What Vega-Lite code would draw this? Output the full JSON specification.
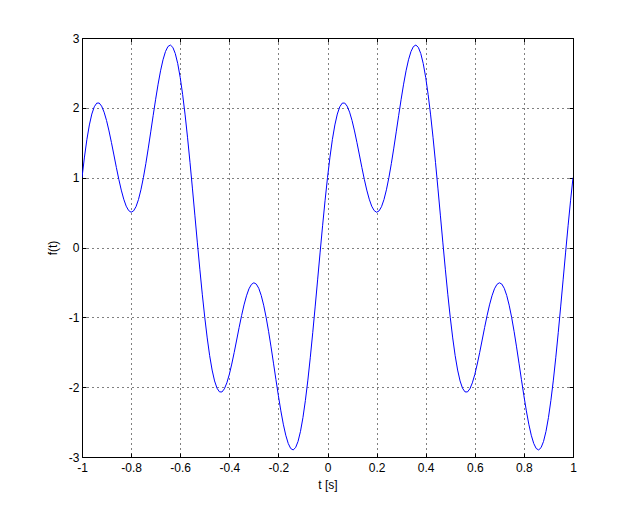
{
  "$schema": "https://vega.github.io/schema/vega-lite/v6.json",
  "width": 491,
  "height": 419,
  "autosize": {"type": "none"},
  "padding": {"left": 82, "top": 38, "right": 60, "bottom": 56},
  "background": "white",
  "config": {
    "view": {"stroke": null},
    "axis": {
      "labelFont": "Liberation Sans",
      "labelFontSize": 12,
      "labelColor": "black",
      "titleFont": "Liberation Sans",
      "titleFontSize": 12,
      "titleFontWeight": "normal",
      "titleColor": "black",
      "domainColor": "black",
      "domainWidth": 1,
      "tickColor": "black",
      "tickWidth": 1,
      "tickSize": -4,
      "gridColor": "black",
      "gridDash": [1, 4],
      "gridOpacity": 1,
      "gridWidth": 1
    }
  },
  "data": {
    "values": [
      {"t": -1, "f": 1}, {"t": -0.99, "f": 1.295}, {"t": -0.98, "f": 1.549}, {"t": -0.97, "f": 1.755}, {"t": -0.96, "f": 1.911},
      {"t": -0.95, "f": 2.015}, {"t": -0.94, "f": 2.067}, {"t": -0.93, "f": 2.069}, {"t": -0.92, "f": 2.024}, {"t": -0.91, "f": 1.938},
      {"t": -0.9, "f": 1.818}, {"t": -0.89, "f": 1.669}, {"t": -0.88, "f": 1.502}, {"t": -0.87, "f": 1.325}, {"t": -0.86, "f": 1.146},
      {"t": -0.85, "f": 0.976}, {"t": -0.84, "f": 0.822}, {"t": -0.83, "f": 0.692}, {"t": -0.82, "f": 0.592}, {"t": -0.81, "f": 0.529},
      {"t": -0.8, "f": 0.505}, {"t": -0.79, "f": 0.524}, {"t": -0.78, "f": 0.584}, {"t": -0.77, "f": 0.686}, {"t": -0.76, "f": 0.826},
      {"t": -0.75, "f": 1}, {"t": -0.74, "f": 1.201}, {"t": -0.73, "f": 1.423}, {"t": -0.72, "f": 1.656}, {"t": -0.71, "f": 1.893},
      {"t": -0.7, "f": 2.123}, {"t": -0.69, "f": 2.339}, {"t": -0.68, "f": 2.53}, {"t": -0.67, "f": 2.688}, {"t": -0.66, "f": 2.806},
      {"t": -0.65, "f": 2.878}, {"t": -0.64, "f": 2.899}, {"t": -0.63, "f": 2.866}, {"t": -0.62, "f": 2.777}, {"t": -0.61, "f": 2.633},
      {"t": -0.6, "f": 2.436}, {"t": -0.59, "f": 2.189}, {"t": -0.58, "f": 1.899}, {"t": -0.57, "f": 1.571}, {"t": -0.56, "f": 1.215},
      {"t": -0.55, "f": 0.839}, {"t": -0.54, "f": 0.453}, {"t": -0.53, "f": 0.066}, {"t": -0.52, "f": -0.311}, {"t": -0.51, "f": -0.669},
      {"t": -0.5, "f": -1}, {"t": -0.49, "f": -1.295}, {"t": -0.48, "f": -1.549}, {"t": -0.47, "f": -1.755}, {"t": -0.46, "f": -1.911},
      {"t": -0.45, "f": -2.015}, {"t": -0.44, "f": -2.067}, {"t": -0.43, "f": -2.069}, {"t": -0.42, "f": -2.024}, {"t": -0.41, "f": -1.938},
      {"t": -0.4, "f": -1.818}, {"t": -0.39, "f": -1.669}, {"t": -0.38, "f": -1.502}, {"t": -0.37, "f": -1.325}, {"t": -0.36, "f": -1.146},
      {"t": -0.35, "f": -0.976}, {"t": -0.34, "f": -0.822}, {"t": -0.33, "f": -0.692}, {"t": -0.32, "f": -0.592}, {"t": -0.31, "f": -0.529},
      {"t": -0.3, "f": -0.505}, {"t": -0.29, "f": -0.524}, {"t": -0.28, "f": -0.584}, {"t": -0.27, "f": -0.686}, {"t": -0.26, "f": -0.826},
      {"t": -0.25, "f": -1}, {"t": -0.24, "f": -1.201}, {"t": -0.23, "f": -1.423}, {"t": -0.22, "f": -1.656}, {"t": -0.21, "f": -1.893},
      {"t": -0.2, "f": -2.123}, {"t": -0.19, "f": -2.339}, {"t": -0.18, "f": -2.53}, {"t": -0.17, "f": -2.688}, {"t": -0.16, "f": -2.806},
      {"t": -0.15, "f": -2.878}, {"t": -0.14, "f": -2.899}, {"t": -0.13, "f": -2.866}, {"t": -0.12, "f": -2.777}, {"t": -0.11, "f": -2.633},
      {"t": -0.1, "f": -2.436}, {"t": -0.09, "f": -2.189}, {"t": -0.08, "f": -1.899}, {"t": -0.07, "f": -1.571}, {"t": -0.06, "f": -1.215},
      {"t": -0.05, "f": -0.839}, {"t": -0.04, "f": -0.453}, {"t": -0.03, "f": -0.066}, {"t": -0.02, "f": 0.311}, {"t": -0.01, "f": 0.669},
      {"t": 0, "f": 1}, {"t": 0.01, "f": 1.295}, {"t": 0.02, "f": 1.549}, {"t": 0.03, "f": 1.755}, {"t": 0.04, "f": 1.911},
      {"t": 0.05, "f": 2.015}, {"t": 0.06, "f": 2.067}, {"t": 0.07, "f": 2.069}, {"t": 0.08, "f": 2.024}, {"t": 0.09, "f": 1.938},
      {"t": 0.1, "f": 1.818}, {"t": 0.11, "f": 1.669}, {"t": 0.12, "f": 1.502}, {"t": 0.13, "f": 1.325}, {"t": 0.14, "f": 1.146},
      {"t": 0.15, "f": 0.976}, {"t": 0.16, "f": 0.822}, {"t": 0.17, "f": 0.692}, {"t": 0.18, "f": 0.592}, {"t": 0.19, "f": 0.529},
      {"t": 0.2, "f": 0.505}, {"t": 0.21, "f": 0.524}, {"t": 0.22, "f": 0.584}, {"t": 0.23, "f": 0.686}, {"t": 0.24, "f": 0.826},
      {"t": 0.25, "f": 1}, {"t": 0.26, "f": 1.201}, {"t": 0.27, "f": 1.423}, {"t": 0.28, "f": 1.656}, {"t": 0.29, "f": 1.893},
      {"t": 0.3, "f": 2.123}, {"t": 0.31, "f": 2.339}, {"t": 0.32, "f": 2.53}, {"t": 0.33, "f": 2.688}, {"t": 0.34, "f": 2.806},
      {"t": 0.35, "f": 2.878}, {"t": 0.36, "f": 2.899}, {"t": 0.37, "f": 2.866}, {"t": 0.38, "f": 2.777}, {"t": 0.39, "f": 2.633},
      {"t": 0.4, "f": 2.436}, {"t": 0.41, "f": 2.189}, {"t": 0.42, "f": 1.899}, {"t": 0.43, "f": 1.571}, {"t": 0.44, "f": 1.215},
      {"t": 0.45, "f": 0.839}, {"t": 0.46, "f": 0.453}, {"t": 0.47, "f": 0.066}, {"t": 0.48, "f": -0.311}, {"t": 0.49, "f": -0.669},
      {"t": 0.5, "f": -1}, {"t": 0.51, "f": -1.295}, {"t": 0.52, "f": -1.549}, {"t": 0.53, "f": -1.755}, {"t": 0.54, "f": -1.911},
      {"t": 0.55, "f": -2.015}, {"t": 0.56, "f": -2.067}, {"t": 0.57, "f": -2.069}, {"t": 0.58, "f": -2.024}, {"t": 0.59, "f": -1.938},
      {"t": 0.6, "f": -1.818}, {"t": 0.61, "f": -1.669}, {"t": 0.62, "f": -1.502}, {"t": 0.63, "f": -1.325}, {"t": 0.64, "f": -1.146},
      {"t": 0.65, "f": -0.976}, {"t": 0.66, "f": -0.822}, {"t": 0.67, "f": -0.692}, {"t": 0.68, "f": -0.592}, {"t": 0.69, "f": -0.529},
      {"t": 0.7, "f": -0.505}, {"t": 0.71, "f": -0.524}, {"t": 0.72, "f": -0.584}, {"t": 0.73, "f": -0.686}, {"t": 0.74, "f": -0.826},
      {"t": 0.75, "f": -1}, {"t": 0.76, "f": -1.201}, {"t": 0.77, "f": -1.423}, {"t": 0.78, "f": -1.656}, {"t": 0.79, "f": -1.893},
      {"t": 0.8, "f": -2.123}, {"t": 0.81, "f": -2.339}, {"t": 0.82, "f": -2.53}, {"t": 0.83, "f": -2.688}, {"t": 0.84, "f": -2.806},
      {"t": 0.85, "f": -2.878}, {"t": 0.86, "f": -2.899}, {"t": 0.87, "f": -2.866}, {"t": 0.88, "f": -2.777}, {"t": 0.89, "f": -2.633},
      {"t": 0.9, "f": -2.436}, {"t": 0.91, "f": -2.189}, {"t": 0.92, "f": -1.899}, {"t": 0.93, "f": -1.571}, {"t": 0.94, "f": -1.215},
      {"t": 0.95, "f": -0.839}, {"t": 0.96, "f": -0.453}, {"t": 0.97, "f": -0.066}, {"t": 0.98, "f": 0.311}, {"t": 0.99, "f": 0.669},
      {"t": 1, "f": 1}
    ]
  },
  "layer": [
    {
      "mark": {"type": "line", "color": "#0000ff", "strokeWidth": 1, "clip": true},
      "encoding": {
        "x": {
          "field": "t", "type": "quantitative",
          "scale": {"domain": [-1, 1], "nice": false, "zero": false},
          "axis": {
            "orient": "bottom",
            "values": [-1, -0.8, -0.6, -0.4, -0.2, 0, 0.2, 0.4, 0.6, 0.8, 1],
            "grid": true,
            "title": "t [s]",
            "labelExpr": "'' + datum.value",
            "labelPadding": 9,
            "titlePadding": 6,
            "labelFlush": false
          }
        },
        "y": {
          "field": "f", "type": "quantitative",
          "scale": {"domain": [-3, 3], "nice": false, "zero": false},
          "axis": {
            "orient": "left",
            "values": [-3, -2, -1, 0, 1, 2, 3],
            "grid": true,
            "title": "f(t)",
            "labelExpr": "'' + datum.value",
            "labelPadding": 7,
            "titlePadding": 9,
            "labelFlush": false
          }
        }
      }
    },
    {
      "mark": {"type": "line", "opacity": 0},
      "encoding": {
        "x": {
          "field": "t", "type": "quantitative",
          "axis": {
            "orient": "top",
            "values": [-1, -0.8, -0.6, -0.4, -0.2, 0, 0.2, 0.4, 0.6, 0.8, 1],
            "grid": false, "labels": false, "title": null
          }
        },
        "y": {
          "field": "f", "type": "quantitative",
          "axis": {
            "orient": "right",
            "values": [-3, -2, -1, 0, 1, 2, 3],
            "grid": false, "labels": false, "title": null
          }
        }
      }
    }
  ],
  "resolve": {"axis": {"x": "independent", "y": "independent"}}
}
